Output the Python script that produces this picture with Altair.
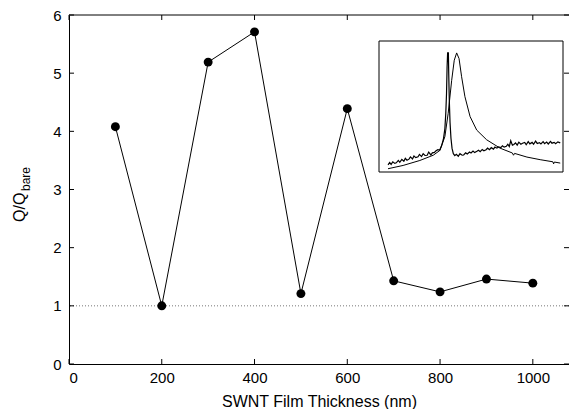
import altair as alt
import pandas as pd

# Main series
thickness = [100, 200, 300, 400, 500, 600, 700, 800, 900, 1000]
q_ratio = [4.08, 1.00, 5.19, 5.71, 1.21, 4.39, 1.43, 1.24, 1.46, 1.39]

x_ticks = [0, 200, 400, 600, 800, 1000]
y_ticks = [0, 1, 2, 3, 4, 5, 6]
ref_level = [1.0]

# Inset spectra (normalized units)
a_u = [0.049, 0.058, 0.066, 0.075, 0.086, 0.094, 0.105, 0.113, 0.124, 0.135, 0.143, 0.152, 0.163,
       0.171, 0.182, 0.19, 0.2, 0.212, 0.22, 0.231, 0.24, 0.25, 0.262, 0.27, 0.282, 0.29, 0.301,
       0.31, 0.32, 0.33, 0.34, 0.35, 0.358, 0.363, 0.367, 0.370, 0.373, 0.377,
       0.379, 0.382, 0.386, 0.391, 0.397, 0.404, 0.412, 0.42, 0.431, 0.44, 0.452, 0.46, 0.471, 0.48,
       0.492, 0.5, 0.511, 0.52, 0.532, 0.541, 0.55, 0.561, 0.57, 0.582, 0.59, 0.601, 0.61, 0.622,
       0.63, 0.641, 0.65, 0.662, 0.671, 0.68, 0.692, 0.70, 0.708, 0.716, 0.725, 0.733, 0.742,
       0.751, 0.76, 0.771, 0.78, 0.792, 0.80, 0.811, 0.82, 0.832, 0.84, 0.851, 0.86, 0.872, 0.88,
       0.892, 0.90, 0.911, 0.92, 0.932, 0.94, 0.952, 0.96, 0.972, 0.985]
a_v = [0.055, 0.072, 0.058, 0.078, 0.066, 0.07, 0.088, 0.074, 0.096, 0.082, 0.104, 0.09, 0.098,
       0.115, 0.1, 0.122, 0.11, 0.116, 0.134, 0.118, 0.14, 0.126, 0.128, 0.152, 0.13, 0.146, 0.15,
       0.162, 0.17, 0.168, 0.2, 0.25, 0.33, 0.45, 0.60, 0.80, 0.91, 0.91,
       0.75, 0.55, 0.38, 0.26, 0.18, 0.14, 0.125, 0.135, 0.12, 0.14, 0.128, 0.13, 0.146, 0.138,
       0.152, 0.145, 0.16, 0.148, 0.158, 0.166, 0.155, 0.172, 0.162, 0.17, 0.182, 0.17, 0.186, 0.175,
       0.19, 0.182, 0.192, 0.186, 0.2, 0.19, 0.196, 0.212, 0.195, 0.238, 0.205, 0.21, 0.222,
       0.205, 0.228, 0.212, 0.22, 0.225, 0.208, 0.232, 0.215, 0.226, 0.212, 0.236, 0.218, 0.224, 0.214,
       0.232, 0.216, 0.228, 0.214, 0.234, 0.22, 0.226, 0.216, 0.23, 0.222]

b_u = [0.049, 0.131, 0.222, 0.295, 0.331, 0.358, 0.376, 0.395, 0.409, 0.422, 0.435, 0.449,
       0.467, 0.495, 0.531, 0.585, 0.658, 0.725, 0.731, 0.737, 0.804, 0.876, 0.945, 0.949, 0.953, 0.985]
b_v = [0.025, 0.05, 0.088, 0.128, 0.165, 0.27, 0.448, 0.70, 0.853, 0.909, 0.866, 0.727,
       0.575, 0.423, 0.32, 0.246, 0.182, 0.145, 0.128, 0.142, 0.114, 0.094, 0.078, 0.062, 0.076, 0.068]

W, H = 500, 349
FONT = "Liberation Sans"
TICK = 5

xs = alt.Scale(domain=[0, 1078], nice=False)
ys = alt.Scale(domain=[0, 6], nice=False)

main_df = pd.DataFrame({"t": thickness, "q": q_ratio})
xt_df = pd.DataFrame({"v": x_ticks})
yt_df = pd.DataFrame({"v": y_ticks})
ref_df = pd.DataFrame({"v": ref_level})

line = alt.Chart(main_df).mark_line(color="black", strokeWidth=1).encode(
    x=alt.X("t:Q", scale=xs, title="SWNT Film Thickness (nm)",
            axis=alt.Axis(values=x_ticks, format="d", grid=False, ticks=False, labelPadding=6,
                          titlePadding=8, domainColor="black")),
    y=alt.Y("q:Q", scale=ys, title=None,
            axis=alt.Axis(values=y_ticks, format="d", grid=False, ticks=False, labelPadding=8,
                          domainColor="black")),
)
points = alt.Chart(main_df).mark_circle(color="black", opacity=1, size=80).encode(
    x=alt.X("t:Q", scale=xs), y=alt.Y("q:Q", scale=ys)
)
ref = alt.Chart(ref_df).mark_rule(color="#777777", strokeWidth=1, strokeDash=[1, 2]).encode(
    y=alt.Y("v:Q", scale=ys)
)
left_ticks = alt.Chart(yt_df).mark_rule(color="black").encode(
    y=alt.Y("v:Q", scale=ys), x=alt.value(0), x2=alt.value(TICK))
right_ticks = alt.Chart(yt_df).mark_rule(color="black").encode(
    y=alt.Y("v:Q", scale=ys), x=alt.value(W - TICK), x2=alt.value(W))
bottom_ticks = alt.Chart(xt_df).mark_rule(color="black").encode(
    x=alt.X("v:Q", scale=xs), y=alt.value(H), y2=alt.value(H - TICK))
top_ticks = alt.Chart(xt_df).mark_rule(color="black").encode(
    x=alt.X("v:Q", scale=xs), y=alt.value(0), y2=alt.value(TICK))
top_border = alt.Chart(pd.DataFrame({"a": [0]})).mark_rule(color="black").encode(
    y=alt.value(0), x=alt.value(0), x2=alt.value(W))

title_df = pd.DataFrame({"a": [0]})
ytitle_main = alt.Chart(title_df).mark_text(
    text="Q/Q", angle=270, align="left", baseline="middle", font=FONT, fontSize=16, color="black"
).encode(x=alt.value(-49), y=alt.value(207))
ytitle_sub = alt.Chart(title_df).mark_text(
    text="bare", angle=270, align="left", baseline="middle", font=FONT, fontSize=12, color="black"
).encode(x=alt.value(-43), y=alt.value(176))

main = alt.layer(ref, line, points, left_ticks, right_ticks, bottom_ticks, top_ticks, top_border,
                 ytitle_main, ytitle_sub)

# Inset
us = alt.Scale(domain=[0, 1], range=[310, 494], nice=False)
vs = alt.Scale(domain=[0, 1], range=[157, 26], nice=False)
box_df = pd.DataFrame({"u0": [0], "u1": [1], "v0": [0], "v1": [1]})
a_df = pd.DataFrame({"u": a_u, "v": a_v})
b_df = pd.DataFrame({"u": b_u, "v": b_v})

box = alt.Chart(box_df).mark_rect(fill="white", stroke="black", strokeWidth=1).encode(
    x=alt.X("u0:Q", scale=us, axis=None), x2="u1:Q",
    y=alt.Y("v0:Q", scale=vs, axis=None), y2="v1:Q")
curve_a = alt.Chart(a_df).mark_line(color="black", strokeWidth=1.2).encode(
    x=alt.X("u:Q", scale=us, axis=None), y=alt.Y("v:Q", scale=vs, axis=None))
curve_b = alt.Chart(b_df).mark_line(color="black", strokeWidth=1).encode(
    x=alt.X("u:Q", scale=us, axis=None), y=alt.Y("v:Q", scale=vs, axis=None))
inset = alt.layer(box, curve_a, curve_b)

chart = alt.layer(main, inset).resolve_scale(x="independent", y="independent").properties(
    width=W, height=H,
    autosize=alt.AutoSizeParams(type="none"),
    padding={"left": 61, "top": 7, "right": 0, "bottom": 45},
).configure_view(stroke=None).configure_axis(
    labelFont=FONT, labelFontSize=15, labelColor="black", titleFont=FONT, titleFontSize=16,
    titleFontWeight="normal", titleColor="black", domainWidth=1
)

chart.save("out.html", embed_options={"renderer": "svg", "actions": False})
